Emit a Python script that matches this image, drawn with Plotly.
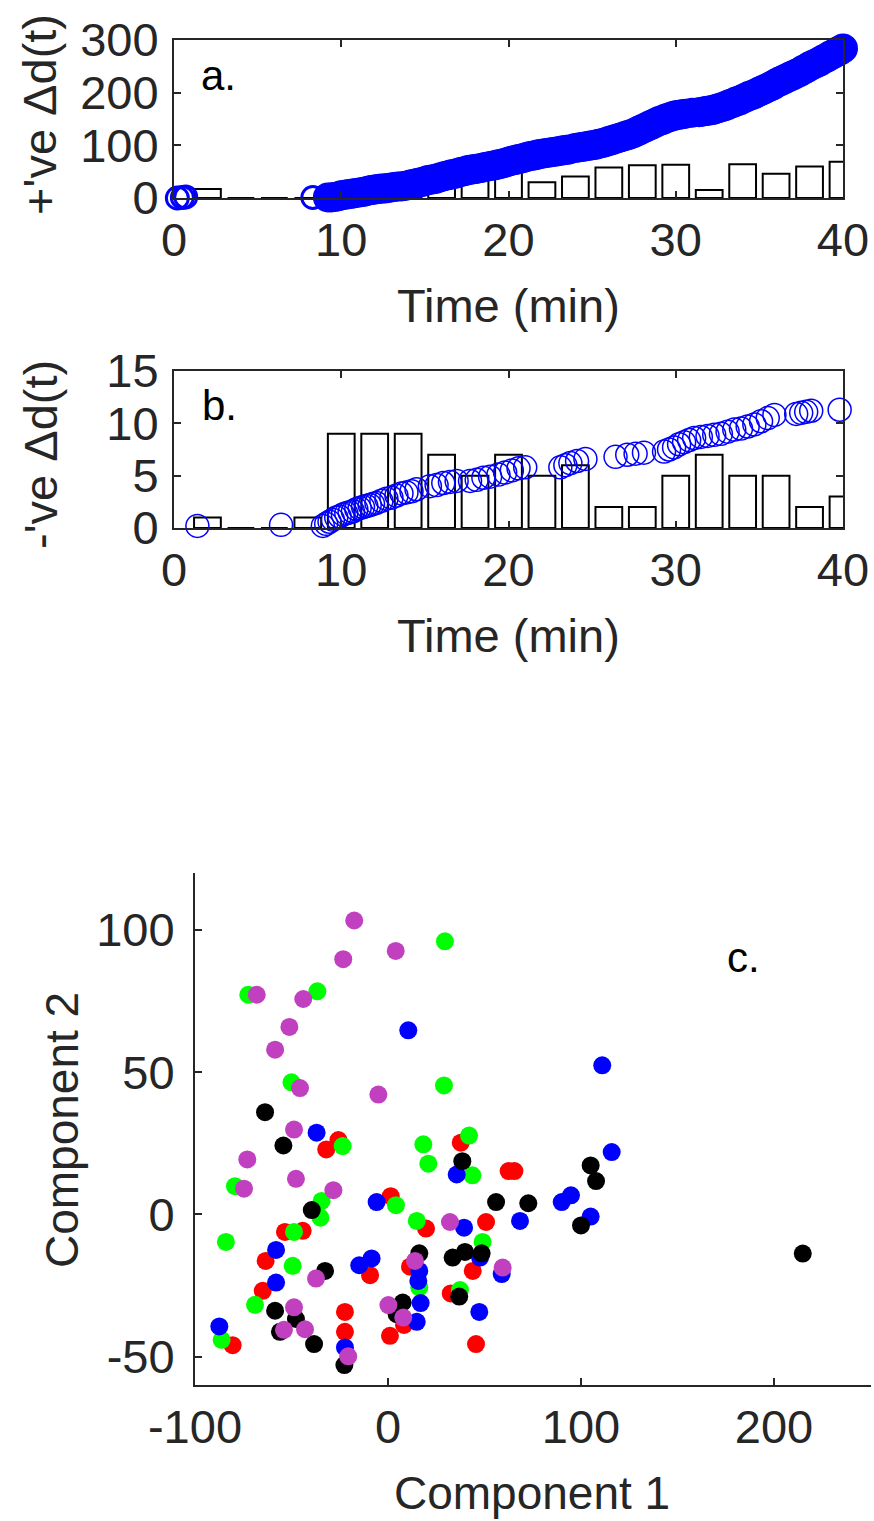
import plotly.graph_objects as go

# ---------------- Panel a: positive changes ----------------
t_a = [0.2, 0.5, 0.7, 8.3, 9.2,
       9.4, 9.6, 9.8, 10.0, 10.2, 10.4, 10.6, 10.8, 11.0, 11.2, 11.4, 11.6, 11.8, 12.0,
       12.2, 12.4, 12.6, 12.8, 13.0, 13.2, 13.4, 13.6, 13.8, 14.0, 14.2, 14.4, 14.6, 14.8, 15.0,
       15.2, 15.4, 15.6, 15.8, 16.0, 16.2, 16.4, 16.6, 16.8, 17.0, 17.2, 17.4, 17.6, 17.8, 18.0,
       18.2, 18.4, 18.6, 18.8, 19.0, 19.2, 19.4, 19.6, 19.8, 20.0, 20.2, 20.4, 20.6, 20.8, 21.0,
       21.2, 21.4, 21.6, 21.8, 22.0, 22.2, 22.4, 22.6, 22.8, 23.0, 23.2, 23.4, 23.6,
       24.0, 24.2, 24.4, 24.6, 24.8, 25.0, 25.2, 25.4, 25.6, 25.8, 26.0, 26.2, 26.4, 26.6, 26.8, 27.0,
       27.2, 27.4, 27.6, 27.8, 28.0, 28.2, 28.4, 28.6, 28.8, 29.0, 29.2, 29.4, 29.6, 29.8, 30.0,
       30.2, 30.4, 30.6, 31.0,
       31.4, 31.6, 31.8, 32.0, 32.2, 32.4, 32.6, 32.8, 33.0, 33.2, 33.4, 33.6, 33.8, 34.0,
       34.2, 34.4, 34.6, 34.8, 35.0, 35.2, 35.4, 35.6, 35.8, 36.0, 36.2, 36.4, 36.6, 36.8, 37.0,
       37.2, 37.4, 37.6, 37.8, 38.0, 38.2, 38.4, 38.6, 38.8, 39.0, 39.2, 39.4, 39.6, 39.8, 40.0]
v_a = [0, 1, 2, 1, 1,
       1, 2, 3, 5, 6, 7, 8, 9, 10, 11, 12, 14, 15, 16,
       17, 18, 18, 19, 20, 21, 22, 22, 23, 24, 26, 27, 29, 30, 32,
       34, 35, 36, 38, 40, 42, 43, 45, 46, 48, 50, 51, 53, 54, 55,
       56, 57, 59, 60, 61, 62, 64, 65, 67, 69, 71, 72, 74, 75, 77,
       79, 80, 81, 83, 84, 85, 86, 87, 88, 89, 90, 91, 92,
       95, 96, 97, 98, 99, 100, 101, 103, 104, 106, 108, 110, 112, 114, 116, 118,
       120, 122, 125, 128, 131, 134, 137, 140, 143, 146, 148, 151, 153, 155, 157,
       158, 159, 160, 162,
       163, 164, 165, 166, 167, 169, 171, 173, 175, 178, 180, 183, 185, 188,
       191, 194, 196, 199, 202, 205, 208, 211, 214, 218, 221, 224, 227, 230, 233,
       236, 239, 243, 246, 250, 253, 256, 259, 263, 266, 270, 273, 277, 280, 284]
n_sparse_a = 4  # first few isolated events (drawn with thinner outline)

bins = [2, 4, 6, 8, 10, 12, 14, 16, 18, 20, 22, 24, 26, 28, 30, 32, 34, 36, 38, 40]
hist_a = [17, 0, 0, 0, 14, 35, 23, 52, 60, 60, 30, 41, 58, 62, 63, 15, 64, 46, 60, 69]

# ---------------- Panel b: negative changes ----------------
t_b = [1.4, 6.4,
       8.9, 9.1, 9.3, 9.5, 9.7, 9.9, 10.1, 10.3, 10.5, 10.7, 10.9, 11.1, 11.3, 11.5, 11.7, 11.9, 12.1,
       12.4, 12.7, 13.0, 13.3, 13.6, 13.9, 14.2, 14.5,
       15.3, 15.7, 16.1, 16.5, 16.9,
       17.7, 18.1, 18.5, 18.9,
       19.4, 19.8, 20.2, 20.6, 21.0,
       23.1, 23.4, 23.7, 24.1, 24.6,
       26.4, 27.1, 27.6, 28.1,
       29.3, 29.6, 29.9, 30.2, 30.5, 30.8, 31.1,
       31.5, 31.9, 32.3, 32.7, 33.1, 33.5, 33.9, 34.3, 34.7, 35.1, 35.5, 35.9,
       37.2, 37.5, 37.8, 38.1, 39.8]
v_b = [0.2, 0.3,
       0.2, 0.4, 0.6, 0.8, 1.0, 1.1, 1.3, 1.4, 1.5, 1.6, 1.8, 1.9, 2.0, 2.1, 2.2, 2.3, 2.4,
       2.6, 2.8, 2.9, 3.1, 3.3, 3.4, 3.5, 3.7,
       4.0, 4.1, 4.3, 4.4, 4.5,
       4.5, 4.6, 4.8, 4.9,
       5.1, 5.3, 5.5, 5.7, 5.8,
       5.8, 6.0, 6.2, 6.4, 6.6,
       6.8, 7.0, 7.1, 7.2,
       7.3, 7.5, 7.7, 8.0, 8.2, 8.4, 8.6,
       8.7, 8.8, 8.9, 9.0, 9.2, 9.4, 9.5, 9.7, 9.9, 10.2, 10.5, 10.8,
       10.9, 11.0, 11.1, 11.2, 11.3]
hist_b = [1, 0, 0, 1, 9, 9, 9, 7, 5, 7, 5, 6, 2, 2, 5, 7, 5, 5, 2, 3]

# ---------------- Panel c: PCA scores ----------------
red_x = [-25.7, -32, 37.7, 62.5, 65.5, 50.8, 19.7, 1.4, -53.4, -44.2, -63.4, -64.9, -80.5,
         -22.3, -22.3, -9.3, 8.3, 1, 11.4, 43.9, 32.5, 45.6]
red_y = [26.1, 22.8, 25.2, 15.2, 15.2, -2.7, -5, 6.4, -6.2, -5.8, -16.4, -26.9, -46,
         -34.3, -41.3, -21.4, -38.9, -42.7, -18.4, -19.9, -27.8, -45.6]
green_x = [29.5, -72.4, -36.6, -50, 29, -23.5, 18.3, 20.9, 42, 43.7, -79.3, -34.4, -35, 4.1,
           14.9, -84, -48.7, -49.4, -68.9, -86.2, 16.2, 49, 37.3]
green_y = [96, 77.2, 78.4, 46.4, 45.3, 24, 24.6, 17.8, 27.7, 13.7, 9.9, 4.7, -1.2, 3.2,
           -2.3, -9.7, -6.2, -18.1, -31.8, -44.1, -25.7, -9.7, -26.6]
blue_x = [10.5, 111, 115.9, 90, 94.8, 105, 68.4, -37, -5.9, 35.6, 39.4, -58, -58, -87.4,
          -22.3, -14.9, -8.5, 14.9, 16.2, 15.7, 16.9, 47.7, 47.3, 58.9]
blue_y = [64.7, 52.4, 21.9, 4.3, 6.7, -0.8, -2.3, 28.7, 4.3, 14, -4.7, -12.5, -24, -39.4,
          -46.8, -17.9, -15.5, -37.8, -19.9, -23.4, -31.2, -15.2, -34.3, -21]
black_x = [-63.7, -54.2, 56, 72.7, 38.5, -39.5, -32.6, -58.5, -47.7, -56, -38.3, -22.6,
           7.6, 4.5, 16.2, 33.5, 39.9, 48.5, 36.9, 105, 107.8, 100, 214.9]
black_y = [35.9, 24.2, 4.3, 3.9, 18.7, 1.5, -19.9, -33.9, -36.8, -41.3, -45.6, -53,
           -31, -35.1, -13.7, -15.2, -13.2, -13.7, -28.9, 17.2, 11.7, -3.9, -13.8]
mag_x = [-17.5, -23.2, 4, -68, -43.9, -51.1, -58.5, -45.6, -5, -48.7, -72.9, -47.7, -74.6,
         -28.3, 32.1, -37.3, -48.7, -53.9, -43, -20.6, 0.2, 7.9, 14, 59.4]
mag_y = [103.3, 89.7, 92.6, 77.2, 75.7, 65.9, 57.9, 44.4, 42.1, 29.8, 19.3, 12.5, 9,
         8.5, -2.7, -22.6, -32.7, -40.6, -40.4, -49.9, -31.9, -36.3, -16.4, -18.7]

ticks_ab_x = [0, 10, 20, 30, 40]
ticks_a_y = [0, 100, 200, 300]
ticks_b_y = [0, 5, 10, 15]
ticks_c_x = [-100, 0, 100, 200]
ticks_c_x_text = ["-100", "0", "100", "200"]
ticks_c_y = [-50, 0, 50, 100]
ticks_c_y_text = ["-50", "0", "50", "100"]

FONT = "Liberation Sans, Arial, Helvetica, sans-serif"
AX = "#262626"
W, H = 874, 1521

fig = go.Figure()

# panel a
fig.add_trace(go.Scatter(x=t_a[:n_sparse_a], y=v_a[:n_sparse_a], mode="markers", xaxis="x", yaxis="y",
                         marker=dict(symbol="circle-open", size=22, color="#0000FF",
                                     line=dict(width=3, color="#0000FF")),
                         cliponaxis=False, showlegend=False))
fig.add_trace(go.Scatter(x=t_a[n_sparse_a:], y=v_a[n_sparse_a:], mode="markers", xaxis="x", yaxis="y",
                         marker=dict(symbol="circle-open", size=25, color="#0000FF",
                                     line=dict(width=5, color="#0000FF")),
                         cliponaxis=False, showlegend=False))
fig.add_trace(go.Bar(x=bins, y=hist_a, width=1.6, xaxis="x", yaxis="y",
                     marker=dict(color="rgba(0,0,0,0)", line=dict(color="black", width=2)),
                     showlegend=False))
# panel b
fig.add_trace(go.Scatter(x=t_b, y=v_b, mode="markers", xaxis="x2", yaxis="y2",
                         marker=dict(symbol="circle-open", size=23, color="#0000FF",
                                     line=dict(width=1.5, color="#0000FF")),
                         cliponaxis=False, showlegend=False))
fig.add_trace(go.Bar(x=bins, y=hist_b, width=1.6, xaxis="x2", yaxis="y2",
                     marker=dict(color="rgba(0,0,0,0)", line=dict(color="black", width=2)),
                     showlegend=False))
# panel c
for xs, ys, col in [(red_x, red_y, "#FF0000"), (green_x, green_y, "#00FF00"),
                    (blue_x, blue_y, "#0000FF"), (black_x, black_y, "#000000"),
                    (mag_x, mag_y, "#C040C0")]:
    fig.add_trace(go.Scatter(x=xs, y=ys, mode="markers", xaxis="x3", yaxis="y3",
                             marker=dict(size=18, color=col, line=dict(width=0)),
                             cliponaxis=False, showlegend=False))

def px_x(p):
    return p / W

def px_y(p):
    return 1 - p / H

axis_common = dict(showline=True, linecolor=AX, linewidth=2, ticks="inside", ticklen=7,
                   tickwidth=2, tickcolor=AX, showgrid=False, zeroline=False,
                   tickfont=dict(family=FONT, size=47, color=AX))

fig.update_layout(
    width=W, height=H, autosize=False,
    margin=dict(l=0, r=0, t=0, b=0, pad=0, autoexpand=False),
    paper_bgcolor="white", plot_bgcolor="rgba(0,0,0,0)",
    barmode="overlay",
    font=dict(family=FONT, color=AX),
    xaxis=dict(domain=[px_x(174), px_x(843)], range=[0, 40], tickvals=ticks_ab_x,
               anchor="y", mirror="ticks", ticklabelstandoff=0, **axis_common),
    yaxis=dict(domain=[px_y(198), px_y(40)], range=[0, 300], tickvals=ticks_a_y,
               anchor="x", mirror="ticks", ticklabelstandoff=4, **axis_common),
    xaxis2=dict(domain=[px_x(174), px_x(843)], range=[0, 40], tickvals=ticks_ab_x,
                anchor="y2", mirror="ticks", ticklabelstandoff=0, **axis_common),
    yaxis2=dict(domain=[px_y(528), px_y(371)], range=[0, 15], tickvals=ticks_b_y,
                anchor="x2", mirror="ticks", ticklabelstandoff=4, **axis_common),
    xaxis3=dict(domain=[px_x(195), px_x(870.5)], range=[-100, 250], tickvals=ticks_c_x,
                ticktext=ticks_c_x_text, anchor="y3", ticklabelstandoff=0, **axis_common),
    yaxis3=dict(domain=[px_y(1385), px_y(873)], range=[-60, 120], tickvals=ticks_c_y,
                ticktext=ticks_c_y_text, anchor="x3", ticklabelstandoff=9, **axis_common),
)

ann = []
def paper_text(text, x, y, size, angle=0):
    ann.append(dict(text=text, x=px_x(x), y=px_y(y), xref="paper", yref="paper",
                    xanchor="center", yanchor="middle", showarrow=False, textangle=angle,
                    font=dict(family=FONT, size=size, color=AX)))

paper_text("Time (min)", 508, 305, 47)
paper_text("Time (min)", 508, 635, 47)
paper_text("+'ve \u0394d(t)", 40, 115, 47, -90)
paper_text("-'ve \u0394d(t)", 40, 455, 47, -90)
paper_text("Component 1", 532, 1493, 46)
paper_text("Component 2", 62, 1130, 46, -90)

ann.append(dict(text="a.", x=1.5, y=232, xref="x", yref="y", xanchor="left", yanchor="middle",
                showarrow=False, font=dict(family=FONT, size=42, color="black")))
ann.append(dict(text="b.", x=1.55, y=11.75, xref="x2", yref="y2", xanchor="left", yanchor="middle",
                showarrow=False, font=dict(family=FONT, size=42, color="black")))
ann.append(dict(text="c.", x=174.6, y=90.2, xref="x3", yref="y3", xanchor="left", yanchor="middle",
                showarrow=False, font=dict(family=FONT, size=42, color="black")))
fig.update_layout(annotations=ann)

fig.write_html("out.html")
